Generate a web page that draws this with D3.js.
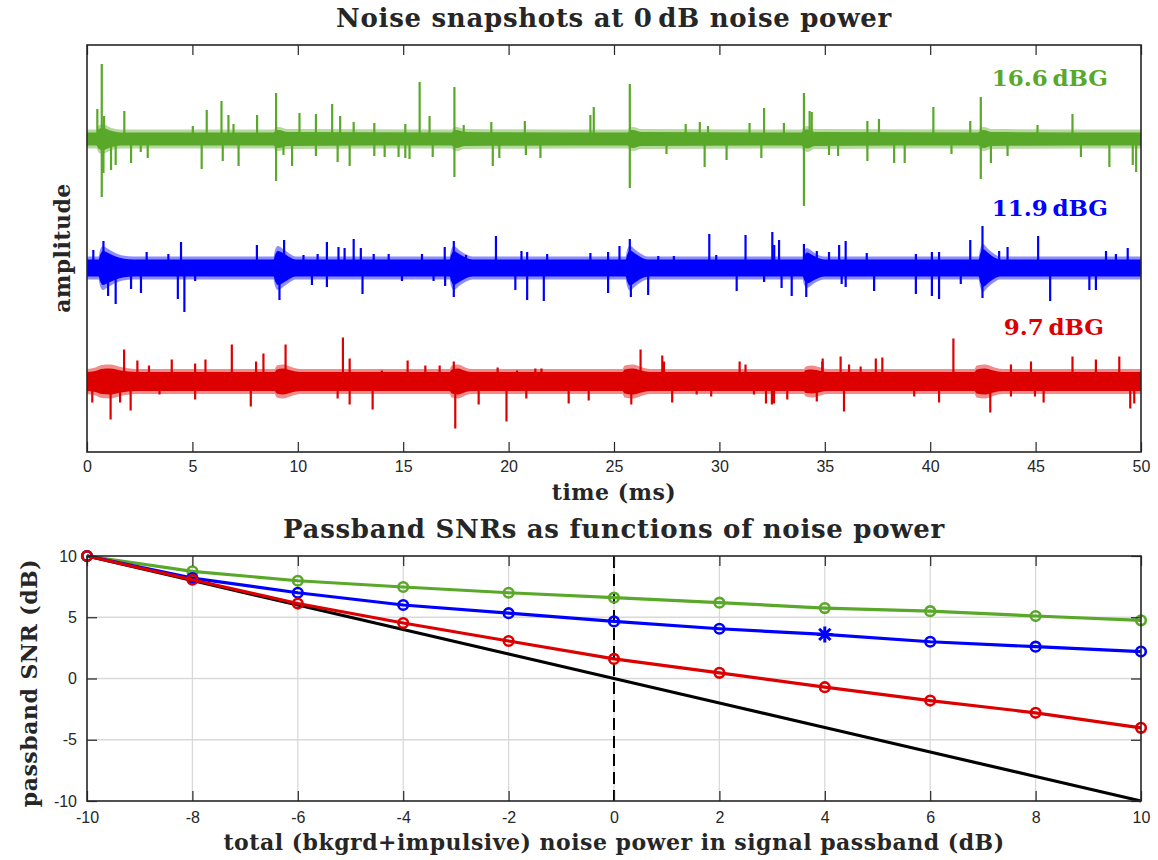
<!DOCTYPE html>
<html>
<head>
<meta charset="utf-8">
<script src="https://cdn.jsdelivr.net/npm/d3@7"></script>
<style>
  body { margin: 0; background: #fff; }
  svg text { fill: #262626; }
  .serif { font-family: "DejaVu Serif", serif; font-weight: bold; }
  .title { font-size: 26px; letter-spacing: 0.7px; }
  .axlabel { font-size: 22px; letter-spacing: 0.5px; }
  .tick text { font-family: "Liberation Sans", Arial, sans-serif; font-size: 16px; fill: #262626; }
  .tick line { stroke: #262626; stroke-width: 1.2; }
</style>
</head>
<body>
<svg id="chart" width="1158" height="860"></svg>
<script>
// ---------- Top panel: noise snapshots ----------
const timeTicks = [0, 5, 10, 15, 20, 25, 30, 35, 40, 45, 50];

// vertical offset of each trace (amplitude units)
const traceOffsets = { green: 31.3, blue: 18.4, red: 7.05 };

// background noise band: [time ms, core half-width, fringe half-width]
const greenBand = [[0,0.65,0.95],[0.45,0.65,0.95],[0.55,1.0,1.35],[0.75,1.1,1.5],[1.1,0.85,1.15],[1.6,0.65,0.95],
  [8.85,0.65,0.95],[8.95,0.85,1.15],[9.1,0.9,1.2],[9.5,0.7,1.0],[17.3,0.65,0.95],[17.4,0.85,1.15],[17.55,0.9,1.2],[17.9,0.7,1.0],
  [25.65,0.65,0.95],[25.75,0.85,1.15],[25.9,0.9,1.2],[26.3,0.7,1.0],[33.9,0.65,0.95],[34.0,0.9,1.2],[34.2,0.95,1.3],[34.5,0.7,1.0],
  [42.3,0.65,0.95],[42.4,0.85,1.15],[42.55,0.9,1.2],[42.9,0.7,1.0],[50,0.65,0.95]];
const blueBand = [[0,0.85,1.15],[0.55,0.85,1.15],[0.62,1.3,1.8],[0.75,1.7,2.2],[1.0,1.5,1.9],[1.3,1.2,1.55],[1.7,0.95,1.25],[2.2,0.85,1.15],
  [8.85,0.85,1.15],[8.92,1.3,1.8],[9.05,1.7,2.2],[9.3,1.5,1.9],[9.6,1.1,1.45],[9.9,0.85,1.15],
  [17.2,0.85,1.15],[17.27,1.3,1.8],[17.4,1.7,2.2],[17.65,1.4,1.8],[17.95,1.05,1.4],[18.3,0.85,1.15],
  [25.55,0.85,1.15],[25.62,1.3,1.8],[25.75,1.75,2.25],[26.0,1.45,1.85],[26.3,1.05,1.4],[26.6,0.85,1.15],
  [33.95,0.85,1.15],[34.02,1.2,1.7],[34.15,1.55,2.0],[34.45,1.25,1.6],[34.75,0.95,1.25],[35.0,0.85,1.15],
  [42.3,0.85,1.15],[42.37,1.4,1.9],[42.5,1.9,2.4],[42.75,1.5,1.9],[43.05,1.05,1.4],[43.3,0.85,1.15],[50,0.85,1.15]];
const redBand = [[0,0.95,1.25],[0.4,1.05,1.4],[0.7,1.25,1.65],[1.1,1.3,1.7],[1.6,1.1,1.45],[2.3,0.95,1.25],
  [8.9,0.95,1.25],[9.0,1.2,1.6],[9.3,1.3,1.7],[9.7,1.1,1.45],[10.1,0.95,1.25],
  [17.2,0.95,1.25],[17.3,1.2,1.6],[17.6,1.3,1.7],[17.9,1.1,1.45],[18.2,0.95,1.25],
  [25.4,0.95,1.25],[25.5,1.2,1.6],[25.9,1.3,1.7],[26.3,1.1,1.45],[26.7,0.95,1.25],
  [34.0,0.95,1.25],[34.1,1.15,1.5],[34.4,1.2,1.6],[34.8,1.05,1.4],[35.1,0.95,1.25],
  [42.1,0.95,1.25],[42.2,1.2,1.6],[42.6,1.3,1.7],[43.0,1.1,1.45],[43.4,0.95,1.25],[50,0.95,1.25]];

// impulsive spikes: [time ms, amplitude] (positive up, negative down)
const greenSpikes = [[0.49,3.0],[0.70,7.5],[0.70,-5.8],[0.81,2.3],[0.78,-3.4],[1.14,-3.1],[1.36,-2.6],[1.77,2.8],[2.09,-2.4],
  [2.55,-1.3],[2.88,-1.9],[5.02,1.3],[5.44,-3.0],[5.68,2.9],[6.38,3.8],[6.44,-2.2],[6.71,2.4],[6.95,1.5],[7.19,-2.7],[8.07,2.4],
  [8.97,4.6],[8.97,-4.2],[9.32,-1.6],[9.73,-2.7],[10.08,2.6],[10.86,2.5],[10.86,-1.7],[11.63,3.5],[11.89,-2.3],[12.01,2.3],
  [12.46,-2.7],[12.65,1.7],[13.63,1.6],[13.63,-1.7],[14.12,-1.8],[14.78,-1.8],[15.10,1.5],[15.10,-1.9],[15.30,-2.0],[15.78,5.7],
  [16.25,2.3],[16.40,-1.8],[17.43,5.2],[17.43,-3.8],[17.87,1.4],[19.18,1.7],[19.25,-2.7],[19.56,-1.9],[20.77,1.8],[20.82,-1.6],
  [21.51,-1.9],[23.88,2.4],[24.04,3.2],[25.75,5.5],[25.75,-4.9],[27.49,-1.5],[28.40,1.5],[29.07,1.7],[29.30,-2.8],[29.46,1.3],
  [30.34,-2.1],[31.43,1.6],[31.99,-1.9],[32.12,3.1],[33.06,1.6],[34.01,4.6],[34.01,-6.7],[34.28,2.8],[34.38,2.7],[35.20,-1.6],
  [35.63,-1.7],[37.02,1.8],[37.02,-2.2],[37.57,2.0],[38.29,-2.4],[38.79,-2.4],[40.15,3.2],[41.01,-1.5],[41.90,1.8],[42.40,4.2],
  [42.40,-4.0],[42.88,-2.4],[43.67,-1.7],[45.09,1.4],[46.75,2.5],[47.15,-1.8],[48.50,-2.8],[49.61,-2.6],[49.77,-3.3]];
const blueSpikes = [[0.30,1.8],[0.78,2.7],[1.00,-2.8],[1.36,-3.6],[2.09,-2.1],[2.56,-2.5],[2.83,1.6],[3.86,1.4],[4.31,-3.1],
  [4.46,2.6],[4.62,-4.4],[5.13,-1.3],[8.06,2.3],[9.13,-3.2],[9.35,2.8],[10.27,1.3],[10.67,-1.7],[10.94,1.4],[11.38,2.6],
  [11.38,-1.9],[11.93,2.1],[12.22,2.0],[12.65,2.9],[12.99,2.0],[13.07,-2.6],[13.60,1.4],[14.31,1.4],[14.94,-1.3],[15.89,1.4],
  [16.44,-1.3],[16.97,2.1],[16.99,-1.8],[17.40,2.7],[17.40,-2.9],[17.98,1.3],[19.40,3.2],[20.32,-2.2],[20.61,1.7],[20.88,1.6],
  [20.88,-3.2],[21.67,-3.3],[21.83,1.4],[23.88,1.5],[24.72,1.6],[24.72,-2.5],[25.26,2.2],[25.75,2.9],[25.80,-2.9],[26.62,-2.7],
  [27.10,1.2],[27.84,1.2],[29.52,3.4],[29.85,1.3],[30.82,-2.3],[31.24,3.3],[32.12,-1.4],[32.51,3.6],[32.60,2.3],[32.83,2.8],
  [32.95,-2.0],[33.43,-2.8],[34.01,2.4],[34.12,-2.9],[34.62,1.7],[35.20,1.6],[35.68,2.3],[35.80,-1.6],[35.99,2.7],[35.99,-1.9],
  [36.99,1.5],[37.34,-2.3],[39.32,1.4],[39.32,-2.6],[40.08,1.6],[40.08,-2.8],[40.42,1.6],[40.42,-3.1],[41.45,-1.6],[41.90,2.8],
  [42.48,4.2],[42.48,-3.0],[43.27,1.7],[43.67,2.1],[45.12,3.2],[45.69,-3.3],[47.55,-2.2],[47.86,-2.2],[48.34,1.7],[48.81,1.4],
  [49.37,2.0]];
const redSpikes = [[0.25,-2.1],[1.12,-3.8],[1.57,-2.1],[1.76,3.2],[2.07,-2.9],[2.39,2.1],[2.94,1.6],[3.44,-1.3],[4.02,2.2],
  [5.13,1.8],[5.13,-1.8],[5.62,2.2],[6.87,3.7],[7.77,-2.5],[8.02,2.0],[8.37,2.8],[9.42,3.7],[11.89,-1.7],[12.14,4.4],[12.46,2.3],
  [12.46,-2.3],[13.55,-2.8],[13.99,1.1],[15.21,2.1],[16.05,1.6],[16.73,1.6],[17.47,-4.7],[17.40,2.0],[18.58,-2.3],[19.48,1.4],
  [19.90,-4.0],[20.40,1.1],[20.84,-1.7],[21.27,1.3],[21.56,1.3],[22.85,-2.2],[23.80,-1.9],[25.82,-2.3],[26.26,3.2],[27.29,2.6],
  [27.37,2.0],[27.76,-2.1],[28.08,0.9],[28.92,-1.3],[29.61,-1.5],[30.96,2.0],[31.24,1.7],[31.64,-1.3],[32.21,-2.2],[32.49,-2.3],
  [32.59,-2.2],[33.22,-1.8],[34.62,-2.0],[34.88,2.0],[34.90,2.3],[35.75,2.5],[35.91,-3.0],[36.15,1.7],[36.70,1.5],[37.42,2.3],
  [37.73,2.4],[39.24,-1.5],[40.42,-2.1],[41.10,4.3],[42.85,-3.1],[43.83,1.7],[43.83,-1.5],[44.78,2.0],[44.97,-1.5],[45.38,-2.1],
  [46.75,2.5],[47.86,2.2],[48.97,2.5],[49.49,-2.7],[49.68,-2.2]];

const traceLabels = [
  { key: "green", text: "16.6\u2009dBG", color: "#5aa829", y: 36.6, right: 1108 },
  { key: "blue",  text: "11.9\u2009dBG", color: "#0000ff", y: 23.6, right: 1108 },
  { key: "red",   text: "9.7\u2009dBG",  color: "#dd0000", y: 11.7, right: 1104 }
];

// ---------- Bottom panel: passband SNR curves ----------
const noisePower = [-10, -8, -6, -4, -2, 0, 2, 4, 6, 8, 10];
const snrReference = [10, 8, 6, 4, 2, 0, -2, -4, -6, -8, -10];
const snrGreen = [10, 8.75, 7.98, 7.47, 7.0, 6.6, 6.19, 5.75, 5.5, 5.1, 4.75];
const snrBlue  = [10, 8.2, 7.0, 6.0, 5.33, 4.66, 4.06, 3.6, 3.0, 2.6, 2.2];
const snrRed   = [10, 8.06, 6.12, 4.53, 3.06, 1.6, 0.46, -0.71, -1.8, -2.8, -4.03];
const operatingPoint = { power: 4, series: "blue" };
const powerTicks = [-10, -8, -6, -4, -2, 0, 2, 4, 6, 8, 10];
const snrTicks = [-10, -5, 0, 5, 10];

const colors = { green: "#5aa829", blue: "#0000ff", red: "#dd0000", black: "#000000" };
const ink = "#262626";
const plainNumber = d => String(d);   // hyphen-minus, as in the axis labels

const svg = d3.select("#chart");

// ===== Top panel =====
const topBox = { left: 87, right: 1141, top: 45, bottom: 452 };
const xTime = d3.scaleLinear().domain([0, 50]).range([topBox.left, topBox.right]);
const yAmp = d3.scaleLinear().domain([0, 40.7]).range([topBox.bottom, topBox.top]);

const gTop = svg.append("g");
gTop.append("defs").append("clipPath").attr("id", "clipTop")
  .append("rect").attr("x", topBox.left).attr("y", topBox.top)
  .attr("width", topBox.right - topBox.left).attr("height", topBox.bottom - topBox.top);

const traces = [
  { key: "green", band: greenBand, spikes: greenSpikes },
  { key: "blue",  band: blueBand,  spikes: blueSpikes },
  { key: "red",   band: redBand,   spikes: redSpikes }
];
const plotTop = gTop.append("g").attr("clip-path", "url(#clipTop)");
traces.forEach(tr => {
  const off = traceOffsets[tr.key];
  const col = colors[tr.key];
  const g = plotTop.append("g");
  const fringe = d3.area().curve(d3.curveMonotoneX)
    .x(d => xTime(d[0])).y0(d => yAmp(off - d[2])).y1(d => yAmp(off + d[2]));
  const core = d3.area().curve(d3.curveMonotoneX)
    .x(d => xTime(d[0])).y0(d => yAmp(off - d[1])).y1(d => yAmp(off + d[1]));
  g.append("path").datum(tr.band).attr("d", fringe).attr("fill", col).attr("fill-opacity", 0.45);
  g.append("path").datum(tr.band).attr("d", core).attr("fill", col);
  g.selectAll("line.spike").data(tr.spikes).join("line")
    .attr("class", "spike")
    .attr("x1", d => xTime(d[0])).attr("x2", d => xTime(d[0]))
    .attr("y1", yAmp(off)).attr("y2", d => yAmp(off + d[1]))
    .attr("stroke", col).attr("stroke-width", 2.2);
});

// trace labels
gTop.selectAll("text.tlabel").data(traceLabels).join("text")
  .attr("class", "tlabel serif")
  .attr("x", d => d.right).attr("y", d => yAmp(d.y))
  .attr("text-anchor", "end")
  .style("font-size", "23px")
  .style("fill", d => d.color)
  .text(d => d.text);

// axes (ticks pointing inward, mirrored on top)
gTop.append("g").attr("transform", `translate(0,${topBox.bottom})`)
  .call(d3.axisBottom(xTime).tickValues(timeTicks).tickFormat(plainNumber)
    .tickSizeInner(-10).tickSizeOuter(0).tickPadding(9))
  .call(g => g.select(".domain").remove());
gTop.append("g").attr("transform", `translate(0,${topBox.top})`)
  .call(d3.axisTop(xTime).tickValues(timeTicks).tickSizeInner(-10).tickSizeOuter(0).tickFormat(""))
  .call(g => g.select(".domain").remove());
gTop.append("rect").attr("x", topBox.left).attr("y", topBox.top)
  .attr("width", topBox.right - topBox.left).attr("height", topBox.bottom - topBox.top)
  .attr("fill", "none").attr("stroke", ink).attr("stroke-width", 1.6);

gTop.append("text").attr("class", "serif title").attr("x", 614).attr("y", 27)
  .attr("text-anchor", "middle")
  .text("Noise snapshots at 0\u2009dB noise power");
gTop.append("text").attr("class", "serif axlabel").attr("x", 614).attr("y", 500)
  .attr("text-anchor", "middle")
  .text("time (ms)");
gTop.append("text").attr("class", "serif axlabel")
  .attr("transform", "translate(70,248) rotate(-90)")
  .attr("text-anchor", "middle")
  .text("amplitude");

// ===== Bottom panel =====
const botBox = { left: 87, right: 1141, top: 556, bottom: 801 };
const xPow = d3.scaleLinear().domain([-10, 10]).range([botBox.left, botBox.right]);
const ySnr = d3.scaleLinear().domain([-10, 10]).range([botBox.bottom, botBox.top]);
const gBot = svg.append("g");

// grid
gBot.append("g").selectAll("line").data(powerTicks.slice(1, -1)).join("line")
  .attr("x1", d => xPow(d)).attr("x2", d => xPow(d))
  .attr("y1", botBox.top).attr("y2", botBox.bottom)
  .attr("stroke", "#d9d9d9").attr("stroke-width", 1.3);
gBot.append("g").selectAll("line").data(snrTicks.slice(1, -1)).join("line")
  .attr("x1", botBox.left).attr("x2", botBox.right)
  .attr("y1", d => ySnr(d)).attr("y2", d => ySnr(d))
  .attr("stroke", "#d9d9d9").attr("stroke-width", 1.3);

// dashed marker at 0 dB noise power
gBot.append("line")
  .attr("x1", xPow(0)).attr("x2", xPow(0))
  .attr("y1", botBox.top).attr("y2", botBox.bottom)
  .attr("stroke", "#000").attr("stroke-width", 2).attr("stroke-dasharray", "12,6");

const series = [
  { key: "black", values: snrReference, markers: false },
  { key: "green", values: snrGreen, markers: true },
  { key: "blue",  values: snrBlue, markers: true },
  { key: "red",   values: snrRed, markers: true }
];
const line = d3.line().x(d => xPow(d[0])).y(d => ySnr(d[1]));
series.forEach(s => {
  const pts = noisePower.map((p, i) => [p, s.values[i]]);
  const col = colors[s.key];
  const g = gBot.append("g");
  g.append("path").datum(pts).attr("d", line)
    .attr("fill", "none").attr("stroke", col).attr("stroke-width", 3.2)
    .attr("stroke-linejoin", "round");
  if (!s.markers) return;
  const circ = pts.filter(d => !(s.key === operatingPoint.series && d[0] === operatingPoint.power));
  g.selectAll("circle").data(circ).join("circle")
    .attr("cx", d => xPow(d[0])).attr("cy", d => ySnr(d[1])).attr("r", 4.8)
    .attr("fill", "none").attr("stroke", col).attr("stroke-width", 2.6);
  const star = pts.filter(d => s.key === operatingPoint.series && d[0] === operatingPoint.power);
  g.selectAll("path.star").data(star).join("path")
    .attr("class", "star")
    .attr("transform", d => `translate(${xPow(d[0])},${ySnr(d[1])})`)
    .attr("d", () => {
      const r = 8, q = r * Math.SQRT1_2;
      return `M${-r},0L${r},0M0,${-r}L0,${r}M${-q},${-q}L${q},${q}M${-q},${q}L${q},${-q}`;
    })
    .attr("stroke", col).attr("stroke-width", 3).attr("fill", "none");
});

// axes
gBot.append("g").attr("transform", `translate(0,${botBox.bottom})`)
  .call(d3.axisBottom(xPow).tickValues(powerTicks).tickFormat(plainNumber)
    .tickSizeInner(-10).tickSizeOuter(0).tickPadding(11))
  .call(g => g.select(".domain").remove());
gBot.append("g").attr("transform", `translate(0,${botBox.top})`)
  .call(d3.axisTop(xPow).tickValues(powerTicks).tickSizeInner(-10).tickSizeOuter(0).tickFormat(""))
  .call(g => g.select(".domain").remove());
gBot.append("g").attr("transform", `translate(${botBox.left},0)`)
  .call(d3.axisLeft(ySnr).tickValues(snrTicks).tickFormat(plainNumber)
    .tickSizeInner(-10).tickSizeOuter(0).tickPadding(10))
  .call(g => g.select(".domain").remove());
gBot.append("g").attr("transform", `translate(${botBox.right},0)`)
  .call(d3.axisRight(ySnr).tickValues(snrTicks).tickSizeInner(-10).tickSizeOuter(0).tickFormat(""))
  .call(g => g.select(".domain").remove());
gBot.append("rect").attr("x", botBox.left).attr("y", botBox.top)
  .attr("width", botBox.right - botBox.left).attr("height", botBox.bottom - botBox.top)
  .attr("fill", "none").attr("stroke", ink).attr("stroke-width", 1.6);

gBot.append("text").attr("class", "serif title").attr("x", 614).attr("y", 538)
  .attr("text-anchor", "middle")
  .text("Passband SNRs as functions of noise power");
gBot.append("text").attr("class", "serif axlabel").attr("x", 614).attr("y", 850)
  .attr("text-anchor", "middle")
  .text("total (bkgrd+impulsive) noise power in signal passband (dB)");
gBot.append("text").attr("class", "serif axlabel")
  .attr("transform", "translate(37,683) rotate(-90)")
  .attr("text-anchor", "middle")
  .text("passband SNR (dB)");
</script>
</body>
</html>
